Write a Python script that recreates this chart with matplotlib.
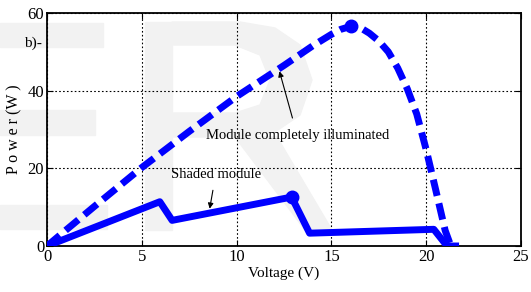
import matplotlib
matplotlib.use('Agg')
import matplotlib.pyplot as plt
from matplotlib.patches import Rectangle, Polygon

plt.rcParams['font.family'] = ['Liberation Serif', 'DejaVu Serif']

# full illumination curve (V, W)
v_full = [0, 1, 2.5, 5, 7.5, 10, 12.5, 14, 15, 15.5, 16.05, 16.6, 17, 17.5, 18, 18.5, 19, 19.5, 20, 20.5, 21, 21.3]
p_full = [0, 4.1, 10.2, 20.2, 29.5, 38.5, 46.5, 51.5, 54.5, 55.8, 56.6, 56.0, 54.8, 52.8, 50, 45.8, 40.5, 34, 24.8, 14.5, 4, 0]

# shaded module curve
v_shade = [0, 5.95, 6.6, 12.9, 13.85, 20.4, 21.1, 21.55]
p_shade = [0, 11.4, 6.6, 12.6, 3.3, 4.3, 0, 0]

# maximum power points
mpp_v = [16.05, 12.9]
mpp_p = [56.6, 12.6]

W, H = 531, 292
fig = plt.figure(figsize=(W / 100, H / 100), dpi=100)

# light grey watermark letters behind the plot (pixel coords, y from top)
def px(x, y):
    return (x / W, 1 - y / H)

grey = '#f2f2f2'
for (x0, y0, x1, y1) in [(0, 23, 103, 47), (0, 110, 95, 135), (0, 205, 107, 229), (145, 22, 172, 230)]:
    fig.patches.append(Rectangle(px(x0, y1), (x1 - x0) / W, (y1 - y0) / H,
                                 transform=fig.transFigure, color=grey, zorder=-10))
# R bowl
bowl = [px(172, 22), px(240, 22), px(275, 28), px(300, 45), px(312, 80), px(300, 115),
        px(275, 132), px(240, 137), px(172, 137), px(172, 113), px(235, 113), px(260, 105),
        px(270, 80), px(260, 55), px(235, 45), px(172, 45)]
fig.patches.append(Polygon(bowl, closed=True, transform=fig.transFigure, color=grey, zorder=-10))
# R leg
leg = [px(235, 137), px(277, 137), px(332, 230), px(305, 230)]
fig.patches.append(Polygon(leg, closed=True, transform=fig.transFigure, color=grey, zorder=-10))

ax = fig.add_axes([47 / W, (H - 246) / H, (521 - 47) / W, (246 - 13) / H])
ax.patch.set_alpha(0)

ax.plot(v_full, p_full, color='#0000ff', lw=5, dashes=(2.4, 1.1), solid_joinstyle='round', zorder=3)
ax.plot(v_shade, p_shade, color='#0000ff', lw=5, solid_joinstyle='round', zorder=3)
ax.plot(mpp_v, mpp_p, 'o', color='#0000ff', ms=9, zorder=4)

ax.set_xlim(0, 25)
ax.set_ylim(0, 60)
ax.set_xticks([0, 5, 10, 15, 20, 25])
ax.set_yticks([0, 20, 40, 60])
ax.grid(True, color='black', linestyle=(0, (1.5, 2)), linewidth=0.8)
ax.tick_params(direction='in', top=True, right=True, labelsize=12, pad=2, length=4)
for s in ax.spines.values():
    s.set_linewidth(1.3)

ax.set_xlabel('Voltage (V)', fontsize=11, labelpad=1)
ax.set_ylabel('P o w e r (W )', fontsize=11.5, labelpad=4)

ax.annotate('Module completely illuminated', xy=(12.26, 45), xytext=(13.2, 28.5),
            fontsize=10.5, ha='center', va='center',
            arrowprops=dict(arrowstyle='-|>', color='black', lw=0.8, shrinkA=6, shrinkB=0,
                            mutation_scale=8))
ax.annotate('Shaded module', xy=(8.58, 9.6), xytext=(8.9, 18.5),
            fontsize=10.5, ha='center', va='center',
            arrowprops=dict(arrowstyle='-|>', color='black', lw=0.8, shrinkA=5, shrinkB=0,
                            mutation_scale=8))

fig.text(33 / W, 1 - 43 / H, 'b)-', fontsize=11, ha='center', va='center')

fig.savefig('out.png', dpi=100)
